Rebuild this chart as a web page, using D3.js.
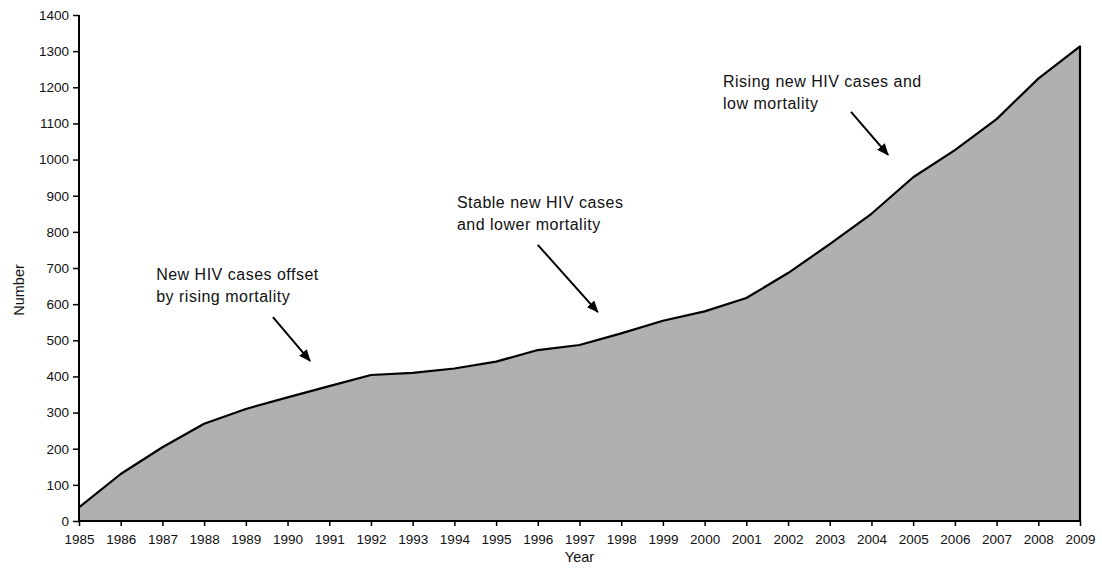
<!DOCTYPE html>
<html>
<head>
<meta charset="utf-8">
<script src="https://cdn.jsdelivr.net/npm/d3@7"></script>
<style>
  html, body { margin: 0; padding: 0; background: #fff; }
  svg { display: block; font-family: "Liberation Sans", Arial, sans-serif; }
</style>
</head>
<body>
<svg id="chart" width="1102" height="570"></svg>
<script>
// ---- data ----
const years = [1985,1986,1987,1988,1989,1990,1991,1992,1993,1994,1995,1996,1997,
               1998,1999,2000,2001,2002,2003,2004,2005,2006,2007,2008,2009];
const numbers = [38,130,204,269,310,342,373,404,410,422,441,473,487,
                 519,554,580,617,686,766,850,951,1026,1112,1224,1313];
const yTicks = [0,100,200,300,400,500,600,700,800,900,1000,1100,1200,1300,1400];
const annotationLines = [
  ["New HIV cases offset", "by rising mortality"],
  ["Stable new HIV cases", "and lower mortality"],
  ["Rising new HIV cases and", "low mortality"]
];
// anchor for text (year, value) and arrow from/to in data space
const annotationText = [[1986.85, 667],[1994.06, 866],[2000.44, 1201]];
const arrowFrom = [[1989.65, 564],[1996.0, 764],[2003.51, 1132]];
const arrowTo   = [[1990.54, 443],[1997.44, 578],[2004.40, 1013]];

// ---- layout ----
const svg = d3.select("#chart");
const x = d3.scaleLinear().domain([1985, 2009]).range([79, 1080]);
const y = d3.scaleLinear().domain([0, 1400]).range([521, 15]);

const pts = years.map((yr, i) => ({yr, v: numbers[i]}));

// area
svg.append("path")
  .datum(pts)
  .attr("fill", "#b0b0b0")
  .attr("d", d3.area().x(d => x(d.yr)).y0(y(0)).y1(d => y(d.v)));

// outline: top line plus right edge
const outline = pts.map(d => [x(d.yr), y(d.v)]);
outline.push([x(2009), y(0)]);
svg.append("path")
  .attr("fill", "none")
  .attr("stroke", "#000")
  .attr("stroke-width", 2.2)
  .attr("stroke-linejoin", "round")
  .attr("d", d3.line()(outline));

// axes
const yAxis = svg.append("g")
  .attr("transform", `translate(${x(1985)},0)`)
  .call(d3.axisLeft(y).tickValues(yTicks).tickSize(6).tickPadding(4).tickFormat(d3.format("d")));
const xAxis = svg.append("g")
  .attr("transform", `translate(0,${y(0)})`)
  .call(d3.axisBottom(x).tickValues(years).tickSize(5).tickPadding(8).tickFormat(d3.format("d")));

[yAxis, xAxis].forEach(g => {
  g.select(".domain").attr("stroke", "#000").attr("stroke-width", 2);
  g.selectAll(".tick line").attr("stroke", "#000").attr("stroke-width", 1.5);
  g.selectAll(".tick text").attr("fill", "#111").style("font-size", "13.5px")
    .style("font-family", "'Liberation Sans', Arial, sans-serif");
});
yAxis.select(".domain").attr("d", `M0,${y(1400)}V${y(0)}`);
xAxis.select(".domain").attr("d", `M${x(1985)},0H${x(2009)}`);

// axis titles
svg.append("text")
  .attr("x", (x(1985) + x(2009)) / 2)
  .attr("y", 562)
  .attr("text-anchor", "middle")
  .attr("fill", "#111")
  .style("font-size", "14.5px")
  .text("Year");
svg.append("text")
  .attr("transform", `translate(24,${(y(0)+y(1400))/2 + 22}) rotate(-90)`)
  .attr("text-anchor", "middle")
  .attr("fill", "#111")
  .style("font-size", "14.5px")
  .text("Number");

// arrow marker
svg.append("defs").append("marker")
  .attr("id", "arrowhead")
  .attr("viewBox", "0 0 12 10")
  .attr("refX", 11)
  .attr("refY", 5)
  .attr("markerWidth", 12)
  .attr("markerHeight", 10)
  .attr("markerUnits", "userSpaceOnUse")
  .attr("orient", "auto")
  .append("path")
  .attr("d", "M0,0L12,5L0,10Z")
  .attr("fill", "#000");

// annotations
annotationLines.forEach((lines, i) => {
  const t = svg.append("text")
    .attr("x", x(annotationText[i][0]))
    .attr("y", y(annotationText[i][1]))
    .attr("fill", "#111")
    .style("font-size", "16px")
    .style("letter-spacing", "0.5px");
  lines.forEach((ln, j) => {
    t.append("tspan")
      .attr("x", x(annotationText[i][0]))
      .attr("dy", j === 0 ? 0 : 22)
      .text(ln);
  });
  svg.append("line")
    .attr("x1", x(arrowFrom[i][0])).attr("y1", y(arrowFrom[i][1]))
    .attr("x2", x(arrowTo[i][0])).attr("y2", y(arrowTo[i][1]))
    .attr("stroke", "#000")
    .attr("stroke-width", 2)
    .attr("marker-end", "url(#arrowhead)");
});
</script>
</body>
</html>
